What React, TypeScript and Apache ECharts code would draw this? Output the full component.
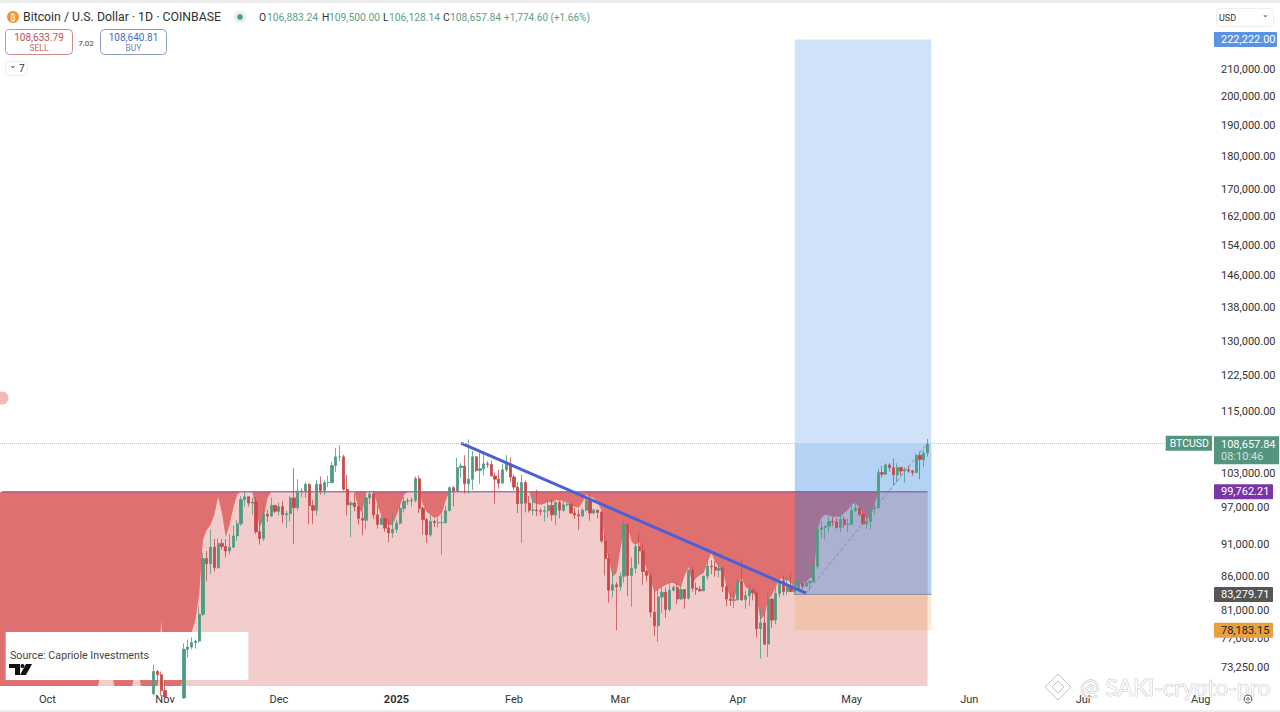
import React, { useEffect, useRef } from "react";
import * as echarts from "echarts";

const FONT = "Roboto, 'Noto Sans', sans-serif";
const UP = "#4f9a82";
const DOWN = "#c9494b";

const monthLabels = ["Oct", "Nov", "Dec", "2025", "Feb", "Mar", "Apr", "May", "Jun", "Jul", "Aug"];
const monthIndexes = [12, 43, 73, 104, 135, 163, 194, 224, 255, 285, 316];
const dayCount = 320;
const firstCandleIndex = 40;

const priceTicks = [210000, 200000, 190000, 180000, 170000, 162000, 154000, 146000, 138000, 130000, 122500, 115000, 103000, 97000, 91000, 86000, 81000, 77000, 73250];

const opens = [69900, 72700, 72300,
  70300, 69500, 69300, 68700, 67800, 69400, 75600, 75900, 76500, 76700, 80400, 88700, 87900, 90500, 87300, 91100, 90600, 89900, 90500, 92300, 94300, 98400, 98900, 97800, 98000, 93000, 91900, 95900, 95600, 97400,
  96400, 97200, 95800, 96000, 98700, 97000, 99900, 99900, 101100, 97400, 96600, 101100, 100000, 101400, 101400, 104500, 106100, 106100, 100200, 97500, 97800, 97200, 95200, 94900, 98700, 99400, 95800, 94200, 95200, 93600, 92800,
  93400, 94400, 96900, 98100, 98200, 98300, 102100, 96900, 95000, 92500, 94700, 94500, 94500, 94500, 96500, 100500, 99900, 104100, 104400, 101200, 102000, 106100, 103600, 103900, 104800, 104700, 102600, 102000, 101300, 103700, 104700,
  102400, 100600, 97700, 101400, 97800, 96600, 96600, 96500, 96400, 96500, 97400, 95800, 97900, 96600, 97500, 97600, 96100, 95800, 95600, 96600, 98300, 96100, 96600, 96200, 91500, 88700, 83900, 84700,
  84400, 86000, 94200, 86100, 87200, 90600, 89900, 86700, 86100, 80700, 78800, 82900, 83600, 81100, 83900, 84300, 82600, 84000, 82700, 86900, 84200, 84000, 83800, 86000, 87500, 87400, 86900, 87200, 84400, 82600, 82400,
  82500, 85200, 82500, 83100, 83900, 83500, 78400, 79200, 76300, 82600, 79600, 83400, 85300, 83700, 84600, 83700, 84000, 84900, 84500, 85000, 85200, 87500, 93400, 93700, 93900, 94700, 94600, 93700, 95000, 94200,
  94200, 96500, 96900, 95900, 94300, 94700, 96800, 97000, 103200, 102900, 104600, 104100, 102800, 104100, 103500, 103700, 103500, 103200, 106400, 105600, 106883.24];

const closes = [72700, 72300, 70300,
  69500, 69300, 68700, 67800, 69400, 75600, 75900, 76500, 76700, 80400, 88700, 87900, 90500, 87300, 91100, 90600, 89900, 90500, 92300, 94300, 98400, 98900, 97800, 98000, 93000, 91900, 95900, 95600, 97400, 96400,
  97200, 95800, 96000, 98700, 97000, 99900, 99900, 101100, 97400, 96600, 101100, 100000, 101400, 101400, 104500, 106100, 106100, 100200, 97500, 97800, 97200, 95200, 94900, 98700, 99400, 95800, 94200, 95200, 93600, 92800, 93400,
  94400, 96900, 98100, 98200, 98300, 102100, 96900, 95000, 92500, 94700, 94500, 94500, 94500, 96500, 100500, 99900, 104100, 104400, 101200, 102000, 106100, 103600, 103900, 104800, 104700, 102600, 102000, 101300, 103700, 104700, 102400,
  100600, 97700, 101400, 97800, 96600, 96600, 96500, 96400, 96500, 97400, 95800, 97900, 96600, 97500, 97600, 96100, 95800, 95600, 96600, 98300, 96100, 96600, 96200, 91500, 88700, 83900, 84700, 84400,
  86000, 94200, 86100, 87200, 90600, 89900, 86700, 86100, 80700, 78800, 82900, 83600, 81100, 83900, 84300, 82600, 84000, 82700, 86900, 84200, 84000, 83800, 86000, 87500, 87400, 86900, 87200, 84400, 82600, 82400, 82500,
  85200, 82500, 83100, 83900, 83500, 78400, 79200, 76300, 82600, 79600, 83400, 85300, 83700, 84600, 83700, 84000, 84900, 84500, 85000, 85200, 87500, 93400, 93700, 93900, 94700, 94600, 93700, 95000, 94200, 94200,
  96500, 96900, 95900, 94300, 94700, 96800, 97000, 103200, 102900, 104600, 104100, 102800, 104100, 103500, 103700, 103500, 103200, 106400, 105600, 106800, 108657.84];

const highs = [73600, 72900, 72700,
  71600, 69900, 69400, 69500, 70600, 76400, 76900, 77200, 76900, 81500, 89600, 89900, 93400, 91800, 91900, 91800, 91800, 92600, 94000, 94900, 99000, 99800, 98900, 98700, 98900, 94800, 97400, 96600, 98800, 97500,
  97900, 98200, 96500, 99000, 104000, 102000, 100400, 101400, 101200, 98300, 101900, 102500, 101900, 102600, 105100, 107800, 108300, 106500, 102800, 98200, 99500, 97400, 96400, 99400, 99900, 99900, 97400, 95700, 95200, 95000, 96100,
  95000, 97800, 98900, 98700, 98800, 102500, 102700, 97200, 95300, 95800, 95000, 95300, 95900, 97300, 100700, 100800, 105900, 104900, 106400, 109400, 107200, 106300, 106800, 107100, 105300, 105400, 103200, 103700, 104800, 106400, 106000,
  102800, 101500, 102800, 101800, 99000, 99300, 100100, 96900, 97300, 98300, 98500, 98100, 98200, 98800, 97900, 97700, 97000, 96700, 96900, 98800, 99500, 96900, 96700, 96500, 92500, 89400, 87000, 85100,
  86600, 95000, 94400, 88900, 90900, 92800, 91200, 86900, 86500, 83900, 84000, 84400, 84300, 85300, 84600, 85100, 84700, 84000, 87000, 87400, 85000, 84500, 86000, 88800, 88500, 88300, 87800, 87500, 84600, 83500, 83900,
  85500, 88500, 83900, 84700, 84200, 83800, 81200, 80900, 83600, 82700, 84300, 85900, 86100, 85800, 86500, 85500, 85500, 85100, 85700, 85300, 88600, 93900, 94700, 94000, 95500, 95400, 95200, 95600, 95500, 95200,
  97400, 97900, 96900, 96300, 95200, 96900, 97700, 103900, 104400, 104900, 104900, 105800, 104900, 104300, 104200, 104500, 103700, 106700, 107100, 107300, 109500];

const lows = [69700, 71400, 69700,
  68800, 69000, 67500, 66800, 67500, 69300, 74500, 75600, 75700, 76500, 80200, 85200, 86300, 86700, 87100, 90100, 88900, 89400, 90400, 91500, 94000, 97200, 97200, 95800, 92600, 90900, 91500, 94600, 95400, 96100,
  95700, 94400, 93600, 94700, 91000, 96500, 98900, 98700, 94200, 94300, 95700, 99300, 99200, 100600, 101200, 103300, 105300, 100000, 95700, 92100, 96400, 94200, 92400, 93400, 97600, 95100, 93500, 94100, 93000, 91300, 92000,
  92800, 94200, 96200, 97500, 97200, 97900, 96100, 92500, 91200, 92200, 93800, 93700, 89300, 94300, 96500, 97300, 99900, 102300, 99500, 99400, 100100, 103300, 101200, 102700, 104100, 102500, 97700, 100300, 101300, 103300, 101500,
  100000, 96100, 91200, 96200, 96200, 95700, 95600, 95700, 94700, 95300, 94800, 94100, 95200, 96300, 97200, 96000, 95100, 93300, 95400, 96400, 94800, 95900, 95200, 91200, 86100, 82100, 82800, 78200,
  83800, 85000, 83000, 81500, 86400, 87800, 84700, 85200, 80000, 77400, 76600, 80600, 79900, 80800, 83700, 81900, 82500, 81200, 82500, 83700, 83200, 83600, 83800, 85500, 86300, 85900, 85800, 83600, 81600, 81600, 81300,
  82400, 82300, 81200, 81600, 82400, 77200, 74400, 76200, 74600, 78500, 79000, 82800, 83100, 83200, 83600, 83200, 83800, 84100, 84400, 83900, 85100, 87100, 91900, 91700, 92900, 93900, 93500, 92900, 93700, 92900,
  94100, 96300, 95600, 94100, 93500, 93400, 95800, 97000, 102300, 102800, 103400, 100800, 101400, 102600, 101400, 103200, 102600, 103100, 102000, 104200, 106128.14];

const overlayIndexes = [0, 25, 26, 29, 30, 34, 35, 36, 37, 41, 42, 43, 47, 48, 50, 51, 52, 53, 54, 55, 56, 57, 58, 59, 60, 61, 62, 63, 66, 67, 68, 69, 70, 71, 93, 94, 95, 96, 98, 99, 100, 101, 102, 103, 104, 105, 106, 107, 110, 111, 112, 113, 114, 115, 116, 117, 118, 139, 140, 141, 142, 143, 144, 145, 146, 147, 148, 149, 150, 151, 152, 153, 154, 155, 156, 157, 158, 159, 160, 161, 162, 163, 164, 165, 166, 167, 168, 169, 170, 171, 172, 173, 174, 175, 176, 177, 178, 179, 180, 181, 182, 183, 184, 185, 186, 187, 188, 189, 190, 191, 192, 193, 194, 195, 196, 197, 198, 199, 200, 201, 202, 203, 204, 205, 206, 207, 208, 209, 210, 211, 212, 213, 214, 215, 216, 217, 218, 219, 220, 221, 222, 223, 224, 225, 226, 227, 228, 229, 230, 231, 244];
const overlayValues = [70000, 70000, 72500, 72500, 70000, 70000, 72500, 72500, 70000, 70000, 79600, 70000, 70000, 73000, 77900, 79600, 83200, 91660, 93300, 94120, 95800, 98890, 96130, 92150, 94120, 97000, 99240, 99762, 99762, 96640, 93790, 95290, 98700, 99762, 99762, 96640, 96300, 99762, 99762, 97500, 95630, 94620, 94120, 94120, 95630, 97500, 99240, 99762, 99762, 97500, 96300, 95800, 95290, 95460, 96130, 98360, 99762, 99762, 97850, 97680, 97500, 97680, 98020, 97850, 98360, 98190, 98190, 97850, 97500, 97170, 97000, 97850, 99240, 98890, 98700, 98020, 96640, 90850, 88480, 85880, 86480, 90060, 93790, 93790, 91340, 90850, 91340, 88950, 86940, 85420, 83630, 83925, 84370, 84670, 84970, 84970, 84670, 84370, 86180, 87400, 84970, 85720, 86180, 86480, 88170, 89580, 88170, 87400, 86940, 84370, 82900, 82460, 84670, 85720, 84370, 83925, 83630, 82460, 79600, 80340, 82460, 83190, 84370, 85720, 85420, 85420, 84970, 84370, 84670, 84970, 85120, 85720, 85880, 93300, 95290, 95800, 95630, 95460, 95460, 95460, 96130, 96640, 97500, 97850, 97000, 96130, 94950, 95800, 97500, 99762, 99762];

const entryPrice = 83279.71;
const targetPrice = 222222;
const targetBoxTop = 221300;
const stopPrice = 78183.15;
const overlayLevel = 99762.21;
const lastPrice = 108657.84;
const trendStart = 108700;
const trendEnd = 83450;
const whiteBoxTop = 77936;
const whiteBoxBottom = 71615;

const money = (v: number) => v.toLocaleString("en-US", { minimumFractionDigits: 2, maximumFractionDigits: 2 });

function tag(value: number, bg: string, color: string, at = value, width = 52) {
  return {
    yAxis: at,
    lineStyle: { opacity: 0 },
    label: {
      opacity: 1, formatter: money(value), position: "end", distance: 0, backgroundColor: bg, color,
      fontFamily: FONT, fontSize: 11, padding: [2, 0, 2, 7], width, align: "left", borderRadius: 1,
    },
  };
}

const App = () => {
  const ref = useRef<HTMLDivElement>(null);
  useEffect(() => {
    const chart = echarts.init(ref.current!, undefined, { renderer: "svg" });
    const categories = Array.from({ length: dayCount }, (_, i) => new Date(Date.UTC(2024, 8, 19 + i)).toISOString().slice(0, 10));
    const candleData = [
      ...Array.from({ length: firstCandleIndex }, () => ["-", "-", "-", "-"]),
      ...opens.map((o, i) => [o, closes[i], lows[i], highs[i]]),
    ];
    const txt = (text: string, x: number, y: number, size: number, fill: string, extra: any = {}) => ({
      type: "text", x, y, silent: true, z: 100,
      style: { text, fontSize: size, fill, fontFamily: FONT, verticalAlign: "middle", ...extra },
    });
    const box = (x: number, y: number, w: number, h: number, stroke: string) => ({
      type: "rect", shape: { x, y, width: w, height: h, r: 4 }, z: 99, silent: true,
      style: { fill: "#fff", stroke, lineWidth: 1 },
    });
    chart.setOption({
      animation: false,
      backgroundColor: "#ffffff",
      grid: { left: 0, top: 0, width: 1214, height: 686 },
      xAxis: {
        type: "category", data: categories, boundaryGap: true,
        axisLine: { show: false }, axisTick: { show: false }, splitLine: { show: false },
        axisLabel: {
          interval: (i: number) => monthIndexes.includes(i),
          formatter: (_: string, i: number) => {
            const label = monthLabels[monthIndexes.indexOf(i)];
            return label === "2025" ? `{b|${label}}` : label;
          },
          rich: { b: { fontWeight: "bold", fontSize: 11, fontFamily: FONT, color: "#333" } },
          color: "#333", fontSize: 11, fontFamily: FONT, margin: 8, hideOverlap: false,
        },
      },
      yAxis: {
        type: "log", logBase: 10, min: 70872, max: 237200, position: "right",
        axisLine: { show: false }, axisTick: { show: false }, splitLine: { show: false }, minorSplitLine: { show: false },
        axisLabel: { show: false },
      },
      series: [
        {
          type: "line", name: "band", z: 1, silent: true, showSymbol: false, symbol: "none",
          data: [[0, overlayLevel], [240, overlayLevel]],
          lineStyle: { width: 0 }, areaStyle: { color: "#e07070", origin: "start", opacity: 1 },
        },
        {
          type: "line", name: "capriole", z: 2, silent: true, showSymbol: false, symbol: "none",
          data: overlayIndexes.map((x, i) => [x, overlayValues[i]]),
          lineStyle: { width: 0 }, areaStyle: { color: "#f2cdcb", origin: "start", opacity: 1 },
        },
        {
          type: "line", name: "boxes", z: 3, silent: true, symbol: "none", data: [],
          markArea: {
            silent: true, z: 3,
            data: [
              [{ xAxis: 1, yAxis: whiteBoxTop, itemStyle: { color: "#ffffff", opacity: 1 } }, { xAxis: 65, yAxis: whiteBoxBottom }],
              [{ xAxis: 209, yAxis: targetBoxTop, itemStyle: { color: "rgba(33,122,224,0.21)" } }, { xAxis: 245, yAxis: entryPrice }],
              [{ xAxis: 209, yAxis: lastPrice, itemStyle: { color: "rgba(33,122,224,0.16)" } }, { xAxis: 245, yAxis: entryPrice }],
              [{ xAxis: 209, yAxis: entryPrice, itemStyle: { color: "rgba(242,150,50,0.2)" } }, { xAxis: 245, yAxis: stopPrice }],
            ],
          },
        },
        {
          type: "line", name: "level", z: 4, silent: true, symbol: "none",
          data: [[0, overlayLevel], [244, overlayLevel]], lineStyle: { width: 1, color: "#7f45ae" },
        },
        {
          type: "line", name: "entry", z: 4, silent: true, symbol: "none",
          data: [[209, entryPrice], [245, entryPrice]], lineStyle: { width: 1, color: "#8c8c9c" },
        },
        {
          type: "candlestick", name: "BTCUSD", z: 6, barWidth: 2.7, data: candleData, silent: true,
          itemStyle: { color: UP, color0: DOWN, borderColor: UP, borderColor0: DOWN, borderWidth: 0.8 },
        },
        {
          type: "line", name: "trend", z: 7, silent: true, symbol: "none",
          data: [[121, trendStart], [212, trendEnd]], lineStyle: { width: 3, color: "#4c60d4" },
        },
        {
          type: "line", name: "progress", z: 7, silent: true, symbol: "none",
          data: [[212, trendEnd], [244, lastPrice]], lineStyle: { width: 1, type: "dashed", color: "#7f93b5" },
        },
        {
          type: "line", name: "ticks", z: 8, silent: true, symbol: "none", clip: false,
          data: [[0, lastPrice]], lineStyle: { opacity: 0 },
          markLine: {
            silent: true, symbol: "none", z: 8, animation: false,
            data: [
              ...priceTicks.map((v) => ({
                yAxis: v, lineStyle: { opacity: 0 },
                label: { opacity: 1, formatter: money(v), position: "end", distance: 7, color: "#333", fontFamily: FONT, fontSize: 11, align: "left" },
              })),
              tag(targetPrice, "#5b93e3", "#ffffff", targetBoxTop, 56),
              tag(overlayLevel, "#7b35a8", "#ffffff"),
              tag(entryPrice, "#555555", "#ffffff"),
              tag(stopPrice, "#e9a03f", "#222222"),
              {
                yAxis: lastPrice,
                lineStyle: { color: "#c8c8c8", width: 1, type: "dotted", opacity: 1 },
                label: {
                  opacity: 1,
                  formatter: `{p|${money(lastPrice)}}\n{t|08:10:46}`, position: "end", distance: 0,
                  backgroundColor: "#55957f", padding: [2, 0, 2, 7], width: 58, align: "left", verticalAlign: "top", offset: [0, -7],
                  rich: {
                    p: { color: "#fff", fontFamily: FONT, fontSize: 11, lineHeight: 12 },
                    t: { color: "#cfe5dc", fontFamily: FONT, fontSize: 11, lineHeight: 12 },
                  },
                },
              },
              {
                yAxis: lastPrice, lineStyle: { opacity: 0 },
                label: {
                  opacity: 1,
                  formatter: "BTCUSD", position: "insideEnd", distance: 2, backgroundColor: "#55957f", color: "#fff",
                  fontFamily: FONT, fontSize: 10.5, padding: [2, 3, 2, 4],
                },
              },
            ],
          },
        },
      ],
      graphic: [
        { type: "rect", shape: { x: 0, y: 492, width: 3, height: 194 }, style: { fill: "#e07070" }, z: 0, silent: true },
        { type: "rect", shape: { x: 0, y: 0, width: 1280, height: 3 }, style: { fill: "#ececec" }, z: 100, silent: true },
        { type: "rect", shape: { x: 0, y: 710, width: 1280, height: 2 }, style: { fill: "#ececec" }, z: 100, silent: true },
        { type: "circle", shape: { cx: 2, cy: 398, r: 6.5 }, style: { fill: "#f4b8b8" }, z: 100, silent: true },
        { type: "circle", shape: { cx: 13, cy: 17, r: 6 }, style: { fill: "#f0952e" }, z: 100, silent: true },
        txt("₿", 10.2, 17.5, 9, "#fff", {}),
        txt("Bitcoin / U.S. Dollar · 1D · COINBASE", 23, 17, 12.3, "#2f2f2f"),
        { type: "circle", shape: { cx: 240, cy: 17, r: 6 }, style: { fill: "#e3f2ec" }, z: 100, silent: true },
        { type: "circle", shape: { cx: 240, cy: 17, r: 2.8 }, style: { fill: "#4f9a82" }, z: 100, silent: true },
        txt("O", 259, 17, 10.3, "#333"), txt("106,883.24", 267, 17, 10.3, "#5b9f88"),
        txt("H", 322, 17, 10.3, "#333"), txt("109,500.00", 329, 17, 10.3, "#5b9f88"),
        txt("L", 383, 17, 10.3, "#333"), txt("106,128.14", 389, 17, 10.3, "#5b9f88"),
        txt("C", 443, 17, 10.3, "#333"), txt("108,657.84", 450, 17, 10.3, "#5b9f88"),
        txt("+1,774.60 (+1.66%)", 504, 17, 10, "#5b9f88"),
        box(5.5, 29.5, 67, 25, "#cf8a8a"), box(100.5, 29.5, 66, 25, "#8a9cc8"),
        txt("108,633.79", 39, 37, 10, "#c24d4d", { align: "center" }),
        txt("SELL", 39, 48, 8.5, "#c96a6a", { align: "center" }),
        txt("7.02", 86, 43, 8, "#444", { align: "center" }),
        txt("108,640.81", 133.5, 37, 10, "#4a68c0", { align: "center" }),
        txt("BUY", 133.5, 48, 8.5, "#6f86c8", { align: "center" }),
        box(5.5, 61.5, 22, 14, "#eeeeee"),
        txt("⌄", 9, 65, 9, "#333"),
        txt("7", 19, 68.5, 10, "#333"),
        box(1216.5, 8.5, 57, 18, "#eeeeee"),
        txt("USD", 1219, 17.5, 9, "#333"),
        txt("⌄", 1262, 14, 8, "#333"),
        txt("Source: Capriole Investments", 10, 655, 10.7, "#444"),
        { type: "polygon", shape: { points: [[9, 664], [20, 664], [20, 675], [15, 675], [15, 668], [9, 668]] }, style: { fill: "#111" }, z: 100, silent: true },
        { type: "circle", shape: { cx: 22.5, cy: 666, r: 2 }, style: { fill: "#111" }, z: 100, silent: true },
        { type: "polygon", shape: { points: [[26, 664], [32, 664], [26, 675], [20, 675]] }, style: { fill: "#111" }, z: 100, silent: true },
        { type: "polygon", shape: { points: [[1058, 674], [1071, 687], [1058, 700], [1045, 687]] }, style: { fill: "rgba(255,255,255,0.7)", stroke: "#c4c4c4", lineWidth: 1 }, z: 100, silent: true },
        { type: "polygon", shape: { points: [[1058, 681], [1064, 687], [1058, 693], [1052, 687]] }, style: { fill: "rgba(255,255,255,0.7)", stroke: "#c4c4c4", lineWidth: 1 }, z: 100, silent: true },
        txt("@ SAKI-crypto-pro", 1080, 687, 23, "rgba(255,255,255,0.75)", { stroke: "#a8a8a8", lineWidth: 0.6, fontFamily: "Lato, Roboto, sans-serif" }),
        { type: "circle", shape: { cx: 1248, cy: 699, r: 4 }, style: { fill: "none", stroke: "#555", lineWidth: 1 }, z: 100, silent: true },
        { type: "circle", shape: { cx: 1248, cy: 699, r: 1.3 }, style: { fill: "none", stroke: "#555", lineWidth: 1 }, z: 100, silent: true },
      ],
    });
    return () => chart.dispose();
  }, []);
  return <div ref={ref} style={{ position: "fixed", left: 0, top: 0, width: 1280, height: 712 }} />;
};

export default App;
